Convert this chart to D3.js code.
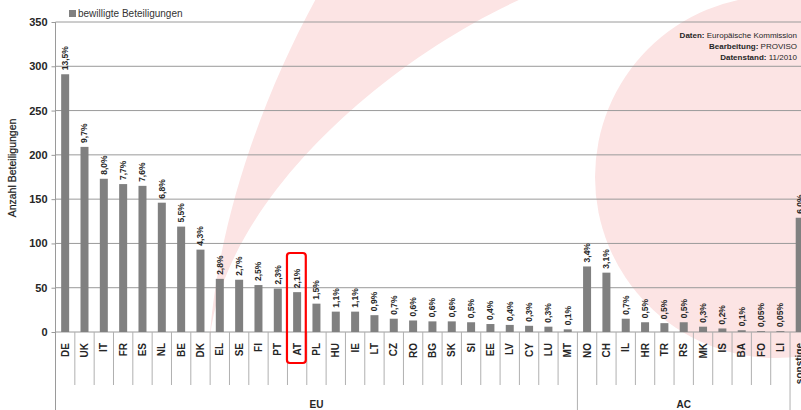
<!DOCTYPE html>
<html>
<head>
<meta charset="utf-8">
<script src="https://cdn.jsdelivr.net/npm/d3@7"></script>
<style>
  body { margin: 0; background: #fff; }
  svg { display: block; font-family: "Liberation Sans", Arial, sans-serif; }
</style>
</head>
<body>
<div id="chart"></div>
<script>
// Länder (EU, AC) und sonstige
var euCodes = ["DE","UK","IT","FR","ES","NL","BE","DK","EL","SE","FI","PT","AT","PL","HU","IE","LT","CZ","RO","BG","SK","SI","EE","LV","CY","LU","MT"];
var acCodes = ["NO","CH","IL","HR","TR","RS","MK","IS","BA","FO","LI"];
var otherCodes = ["sonstige"];

// bewilligte Beteiligungen
var euValues = [291,209,173,167,165,146,119,93,60,59,53,49,45,32,23,23,19,15,13,12,12,11,9,8,7,6,3];
var acValues = [74,67,15,11,10,11,6,4,2,1,1];
var otherValues = [129];

// Anteile
var euShares = ["13,5%","9,7%","8,0%","7,7%","7,6%","6,8%","5,5%","4,3%","2,8%","2,7%","2,5%","2,3%","2,1%","1,5%","1,1%","1,1%","0,9%","0,7%","0,6%","0,6%","0,6%","0,5%","0,4%","0,4%","0,3%","0,3%","0,1%"];
var acShares = ["3,4%","3,1%","0,7%","0,5%","0,5%","0,5%","0,3%","0,2%","0,1%","0,05%","0,05%"];
var otherShares = ["6,0%"];

var groupNames = ["EU","AC",""];
var yTicks = [0,50,100,150,200,250,300,350];
var highlight = "AT";

var categories = euCodes.concat(acCodes, otherCodes);
var values = euValues.concat(acValues, otherValues);
var shares = euShares.concat(acShares, otherShares);
var groups = [euCodes, acCodes, otherCodes];

var data = categories.map(function (c, i) {
    return { land: c, wert: values[i], anteil: shares[i] };
});

var width = 801, height = 410;
var x0 = 55.5, step = 19.33;
var yBottom = 332, yTop = 22;

var svg = d3.select('#chart').append('svg')
    .attr('width', width)
    .attr('height', height);

/*** Hintergrund (Logo) ***/
var bg = svg.append('g');
bg.append('path')
    .attr('d', 'M209,350 C215,230 260,100 318,-5 L530,-5 C380,60 215,210 209,350 Z')
    .attr('fill', '#fce4e4');
bg.append('circle')
    .attr('cx', 776).attr('cy', 177).attr('r', 181)
    .attr('fill', '#fce4e4');

var x = d3.scaleBand()
    .domain(categories)
    .range([x0, x0 + step * categories.length])
    .paddingInner(0)
    .paddingOuter(0);

var y = d3.scaleLinear()
    .domain([0, 350])
    .range([yBottom, yTop]);

var barW = 8;

// Gitterlinien
svg.append('g')
    .selectAll('line')
    .data(yTicks.slice(1))
    .enter()
    .append('line')
    .attr('x1', x0).attr('x2', width)
    .attr('y1', function (d) { return y(d); })
    .attr('y2', function (d) { return y(d); })
    .attr('stroke', '#9a9a9a')
    .attr('stroke-width', 1);

// y-Achse
var yAxis = d3.axisLeft(y).tickValues(yTicks).tickSize(4).tickPadding(4);
var yg = svg.append('g')
    .attr('transform', 'translate(' + x0 + ',0)')
    .call(yAxis);
yg.select('.domain').remove();
yg.selectAll('.tick line').attr('stroke', '#9a9a9a');
yg.selectAll('.tick text')
    .attr('font-size', 11)
    .attr('font-weight', 'bold')
    .attr('fill', '#262626')
    .attr('font-family', '"Liberation Sans", Arial, sans-serif');

svg.append('line')
    .attr('x1', x0).attr('x2', x0)
    .attr('y1', yTop).attr('y2', height)
    .attr('stroke', '#9a9a9a');

// x-Achse
svg.append('line')
    .attr('x1', x0).attr('x2', width)
    .attr('y1', yBottom).attr('y2', yBottom)
    .attr('stroke', '#9a9a9a');

// Trennstriche unter der Achse
var groupEnds = [];
var acc = 0;
groups.forEach(function (g) { acc += g.length; groupEnds.push(acc); });

svg.append('g')
    .selectAll('line')
    .data(d3.range(1, categories.length + 1))
    .enter()
    .append('line')
    .attr('x1', function (i) { return x0 + i * x.bandwidth(); })
    .attr('x2', function (i) { return x0 + i * x.bandwidth(); })
    .attr('y1', yBottom)
    .attr('y2', function (i) { return groupEnds.indexOf(i) >= 0 ? height : 385; })
    .attr('stroke', '#b0b0b0');

// Balken
svg.append('g')
    .selectAll('rect')
    .data(data)
    .enter()
    .append('rect')
    .attr('x', function (d) { return x(d.land) + x.bandwidth() / 2 - barW / 2; })
    .attr('y', function (d) { return y(d.wert); })
    .attr('width', barW)
    .attr('height', function (d) { return yBottom - y(d.wert); })
    .attr('fill', '#808080');

// Prozent-Beschriftung
svg.append('g')
    .selectAll('text')
    .data(data)
    .enter()
    .append('text')
    .attr('transform', function (d) {
        return 'translate(' + (x(d.land) + x.bandwidth() / 2) + ',' + (y(d.wert) - 4) + ') rotate(-90)';
    })
    .attr('dy', '0.35em')
    .attr('font-size', 8.5)
    .attr('font-weight', 'bold')
    .attr('fill', '#262626')
    .text(function (d) { return d.anteil; });

// Länderkürzel
svg.append('g')
    .selectAll('text')
    .data(categories)
    .enter()
    .append('text')
    .attr('transform', function (d) {
        return 'translate(' + (x(d) + x.bandwidth() / 2) + ',343) rotate(-90)';
    })
    .attr('dy', '0.35em')
    .attr('text-anchor', 'end')
    .attr('font-size', 10)
    .attr('font-weight', 'bold')
    .attr('fill', '#262626')
    .text(function (d) { return d; });

// Gruppen
var start = 0;
groups.forEach(function (g, i) {
    var xa = x0 + start * x.bandwidth();
    var xb = x0 + (start + g.length) * x.bandwidth();
    svg.append('text')
        .attr('x', (xa + xb) / 2)
        .attr('y', 408)
        .attr('text-anchor', 'middle')
        .attr('font-size', 10)
        .attr('font-weight', 'bold')
        .attr('fill', '#262626')
        .text(groupNames[i]);
    start += g.length;
});

// Markierung AT
svg.append('rect')
    .attr('x', x(highlight) - 0.5)
    .attr('y', 253)
    .attr('width', x.bandwidth() - 0.5)
    .attr('height', 110)
    .attr('rx', 3)
    .attr('fill', 'none')
    .attr('stroke', '#ff0000')
    .attr('stroke-width', 2.2);

// y-Titel
svg.append('text')
    .attr('transform', 'translate(16,168) rotate(-90)')
    .attr('text-anchor', 'middle')
    .attr('font-size', 10.5)
    .attr('fill', '#1a1a1a')
    .attr('stroke', '#1a1a1a')
    .attr('stroke-width', 0.2)
    .text('Anzahl Beteiligungen');

// Legende
svg.append('rect')
    .attr('x', 69).attr('y', 10)
    .attr('width', 7).attr('height', 7)
    .attr('fill', '#808080');
svg.append('text')
    .attr('x', 78).attr('y', 17)
    .attr('font-size', 10)
    .attr('fill', '#333')
    .text('bewilligte Beteiligungen');

// Quelle
var quelle = [["Daten: ", "Europäische Kommission"], ["Bearbeitung: ", "PROVISO"], ["Datenstand: ", "11/2010"]];
quelle.forEach(function (q, i) {
    var t = svg.append('text')
        .attr('x', 797)
        .attr('y', 38 + i * 11)
        .attr('text-anchor', 'end')
        .attr('font-size', 8)
        .attr('fill', '#262626');
    t.append('tspan').attr('font-weight', 'bold').text(q[0]);
    t.append('tspan').text(q[1]);
});
</script>
</body>
</html>
